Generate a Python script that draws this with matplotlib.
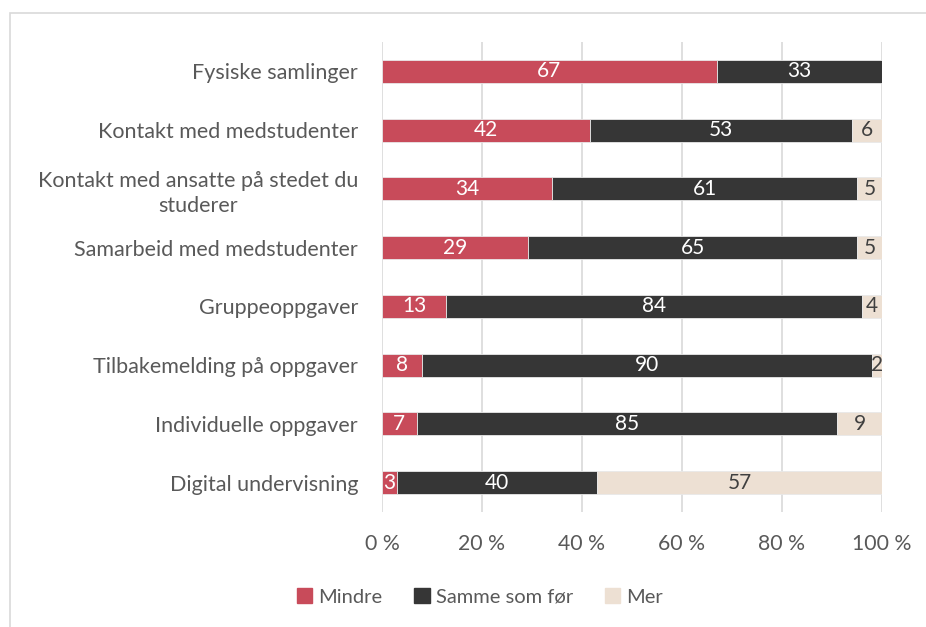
import matplotlib
matplotlib.use("Agg")
import matplotlib.pyplot as plt
import matplotlib.patches as mpatches
import matplotlib.transforms as mtrans
import numpy as np

categories = [
    "Fysiske samlinger",
    "Kontakt med medstudenter",
    "Kontakt med ansatte på stedet du\nstuderer",
    "Samarbeid med medstudenter",
    "Gruppeoppgaver",
    "Tilbakemelding på oppgaver",
    "Individuelle oppgaver",
    "Digital undervisning",
]
mindre = [67, 42, 34, 29, 13, 8, 7, 3]
samme = [33, 53, 61, 65, 84, 90, 85, 40]
mer = [0, 6, 5, 5, 4, 2, 9, 57]
series_names = ["Mindre", "Samme som før", "Mer"]
tick_labels = ["0 %", "20 %", "40 %", "60 %", "80 %", "100 %"]

colors = ["#C84B5A", "#363636", "#EDE0D3"]
label_colors = ["white", "white", "#404040"]

plt.rcParams['font.family'] = ['Lato', 'DejaVu Sans']

fig = plt.figure(figsize=(9.26, 6.27), dpi=100)
ax = fig.add_axes([382/926, 1-512/627, 500/926, 470/627])

data = np.array([mindre, samme, mer], dtype=float)
totals = data.sum(axis=0)
norm = data / totals * 100
y = np.arange(len(categories))
left = np.zeros(len(categories))
handles = []
for i in range(3):
    ax.barh(y, norm[i], left=left, height=0.39, color=colors[i],
            edgecolor='#E8E8E8', linewidth=0.6, zorder=3, label=series_names[i])
    handles.append(mpatches.Patch(color=colors[i], label=series_names[i]))
    for j in range(len(categories)):
        v = data[i, j]
        if v > 0:
            ax.text(left[j] + norm[i, j] / 2, y[j], f"{int(v)}", ha='center', va='center',
                    color=label_colors[i], fontsize=15, zorder=4)
    left += norm[i]

ax.set_ylim(len(categories) - 0.5, -0.5)
ax.set_xlim(0, 100)
ax.set_yticks(y)
ax.set_yticklabels(categories, fontsize=15.5, color='#595959', ha='center',
                   multialignment='center', linespacing=1.3)
ax.tick_params(axis='y', length=0, pad=0)
ax.set_xticks([0, 20, 40, 60, 80, 100])
ax.set_xticklabels(tick_labels, fontsize=15.3, color='#595959')
ax.tick_params(axis='x', length=0, pad=16)
ax.grid(axis='x', color='#D9D9D9', linewidth=1.2, zorder=0)
for s in ax.spines.values():
    s.set_visible(False)

fig.canvas.draw()
renderer = fig.canvas.get_renderer()
for lab in ax.get_yticklabels():
    bb = lab.get_window_extent(renderer)
    w = bb.width
    lab.set_x(0)
    lab.set_transform(ax.get_yaxis_transform() +
                      mtrans.ScaledTranslation(-(24 + w / 2) / 100, 0, fig.dpi_scale_trans))

fig.legend(handles=handles, loc='center', bbox_to_anchor=(480/926, 1-597/627), ncol=3,
           frameon=False, fontsize=14.5, handlelength=0.75, handleheight=0.75,
           handletextpad=0.3, columnspacing=1.6, labelcolor='#595959')

frame = mpatches.Rectangle((10/926, -0.1), 1.2, 1 - 13/627 + 0.1, transform=fig.transFigure,
                           fill=False, edgecolor='#D9D9D9', linewidth=1.2, clip_on=False)
fig.patches.append(frame)

fig.savefig("out.png", dpi=100)
